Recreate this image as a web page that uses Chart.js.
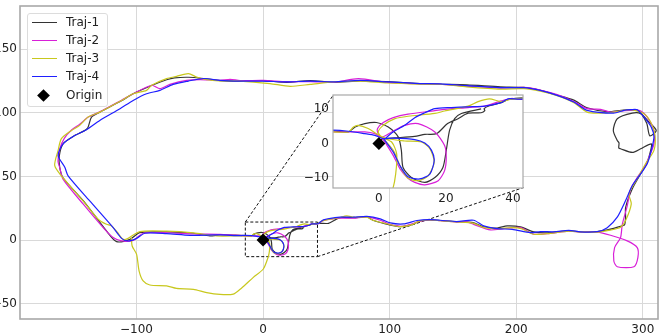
<!DOCTYPE html>
<html>
<head>
<meta charset="utf-8">
<script src="https://cdn.jsdelivr.net/npm/chart.js@4"></script>
<style>
  html, body { margin: 0; padding: 0; background: #fff; overflow: hidden; width: 664px; height: 334px; }
  canvas { position: absolute; }
  #main-chart { left: -20px; top: 0; }
  #inset-chart { left: 300px; top: 90px; }
  #legend { position: absolute; left: 27px; top: 13px; width: 79px; height: 92px; background: rgba(255,255,255,.8);
            border: 1px solid #dcdcdc; border-radius: 3px; font: 12px "DejaVu Sans"; color: #222; }
  #legend span { position: absolute; left: 38px; white-space: nowrap; }
  #legend i { position: absolute; left: 4px; width: 25px; height: 1px; }
  #legend b { position: absolute; left: 11px; width: 9px; height: 9px; background: #000; transform: rotate(45deg); }
</style>
</head>
<body>
<canvas id="main-chart" width="684" height="334"></canvas>
<div id="legend"></div>
<canvas id="inset-chart" width="229" height="115"></canvas>
<script>
const seriesNames = ['Traj-1', 'Traj-2', 'Traj-3', 'Traj-4'];
const seriesColors = ['rgba(0,0,0,.8)', '#d81fd8', '#c8c81e', '#1f1fff'];
const originName = 'Origin';
const origin = [[0, 0]];

const xTicks = [-100, 0, 100, 200, 300];
const yTicks = [-50, 0, 50, 100, 150];
const insetXTicks = [0, 20, 40];
const insetYTicks = [-10, 0, 10];

// zoom box and the inset corners it is tied to
const zoomBox = [[-14, 14.2], [43, 14.2], [43, -13], [-14, -13], [-14, 14.2]];
const connectorA = [[-14, 14.2], [55.4, 113.8]];
const connectorB = [[43, -13], [205.7, 41.3]];

const traj1 = [[-0.2,0.9],[1.8,1.4],[4.8,1.6],[10.7,2],[13.7,2.6],[17.2,2.8],[20.5,5.7],[23.6,7.1],[26.6,8.7],[30.5,8.8],[31.6,9.4],[31.4,10],[33,10.8],
  [36.5,11.7],[39,12.7],[45.1,13.2],[51.7,13.2],[58.3,16.7],[62,17.8],[71.5,17.6],[82,18.2],[87.3,15.4],[100,12],[108.4,10.6],[117.6,12.2],[124,15],[132,15.8],[140,15.4],
  [153,14.5],[166,13.8],[174,10.5],[184.9,9.5],[192.8,11.2],[203.3,10.4],[213.9,6.5],[224.4,5.8],[241.5,7.2],[250.8,6.5],[264,6.7],[272,8],[283.8,11.2],[285.6,12],
  [286.4,18],[286.4,25.6],[291.7,40.3],[298.3,52.1],[303,60],[306.2,70.5],[306.7,75.7],[298.3,71.8],[291.7,68.9],[282.4,71.8],[281,72.4],[281.2,76.5],[279.8,78.3],[276.7,86.2],[279.8,95.4],
  [291.7,99.8],[298.3,99.4],[304.9,92.8],[310.6,86.2],[305.5,82],[303,92],[296,102],[285,102.2],[272,101],[256,104],[245.5,110],[232.3,114],[219,117.7],[206,120],
  [187.5,120.5],[161,122],[140,122.5],[124,123],[97.9,124.5],[76.7,125.2],[55.7,124],[37.2,125.4],[18.7,124],[0.2,125.3],[-18.2,124.8],[-34,125.4],[-47,127],[-59,128],
  [-70,127.5],[-76.2,126],[-88,121.5],[-102.6,115],[-111.8,109.5],[-129,100.5],[-135.5,96.7],[-139,87.5],[-150,81.5],[-158,75.7],[-161,66],[-160.6,57],[-158,49],
  [-140.8,29.5],[-123.7,7.2],[-115.7,-1.2],[-105.2,0.6],[-97.3,5.9],[-76.2,6.4],[-55,5.4],[-41.9,3.3],[-34,4.2],[-18.2,3.8],[-13.9,3.6],[-9.1,3.3],[-7.1,4.7],[-4.2,5.7],
  [-0.7,6],[2.8,4.7],[5.8,1.8],[6.7,-2],[7.2,-6.9],[9.7,-9.8],[13.7,-11.2],[16.7,-9.8],[19.1,-6.9],[20.1,-2],[21.1,3.8],[22.6,7.1],[24.6,8.6],[30.5,9.9]];

const traj2 = [[1.8,0.4],[-0.2,2.8],[-0.4,4.3],[1.3,6],[4.3,7.4],[8.7,8.4],[16.7,9.4],[19.6,9.8],[26.6,10.3],[31.6,10.7],[36.5,12.2],[39.5,12.9],[43,12.7],
  [48,15.5],[60,17.3],[71.5,17.2],[82,18.2],[92.6,15.6],[100,12.5],[105.8,11.4],[111,10.9],[124.2,14.8],[132,15.8],[140,15.2],[153,14.2],[160,14.5],[166.4,12.4],[179.6,8],
  [190.1,9],[203.3,9.8],[213.9,4.6],[224.4,5.1],[241.5,7],[250.8,6.5],[264,6.3],[274.5,3.8],[287.7,-0.6],[295.6,-5.9],[296.1,-13.8],[293,-20.9],[279.8,-20.9],[277.1,-16.4],
  [277.7,-5.9],[282.4,2],[283.8,12.4],[287.7,26.9],[290.4,40],[295.6,49.2],[300.9,57],[304.9,65.2],[308.8,75.7],[308.8,86.2],[303.5,96.7],[297,102],[282.4,101.4],[274.5,100.6],
  [266.6,102.8],[256,103.3],[245.5,109],[232.3,114.3],[219,118],[206,120],[187.5,119.5],[161,121],[140,122.5],[124,122.8],[97.9,124],[75.4,126.9],[55.7,124],[37.2,124.6],
  [18.7,124.5],[0.2,125.5],[-18.2,125.4],[-26,126.4],[-34,125.6],[-49.8,126.1],[-60.4,125.6],[-73.6,122.4],[-81.5,119],[-88,121.7],[-102.6,115],[-111.8,110],[-129,100.8],
  [-138,96.7],[-144.8,91],[-151.3,86.5],[-157,80],[-160.5,72],[-162,62],[-160.6,57],[-158,47.9],[-142,28.2],[-126.3,9.8],[-118.4,2],[-111.8,-0.6],[-102.6,-0.2],[-94.7,5.4],
  [-76.2,5.8],[-55,4.8],[-34,4.5],[-18.2,3.7],[-13.9,3.3],[-9.1,3.3],[-4.2,3.3],[-1.2,2.8],[0.8,1.8],[3.8,3.3],[7.7,5.2],[11.7,5.7],[16.7,3.3],[19.6,-0.6],[20.1,-4],[19.6,-7.8],
  [17.7,-10.7],[13.7,-11.9],[10.7,-11.2],[8.7,-10],[6.3,-7.3],[4.3,-3.5],[1.8,0.4]];

const traj3 = [[-104,2],[-103.4,-4.6],[-99.9,-11.2],[-97.9,-24.3],[-94.7,-32.1],[-89.4,-35.3],[-76.2,-36],[-68.3,-38],[-55,-38.7],[-44.5,-41.3],[-34,-42.7],[-23.5,-42.4],
  [-16.9,-37.6],[-7.7,-29.3],[0.2,-22.7],[4,-13.5],[5,-8.8],[5.3,-3],[3.8,0.4],[0.8,1.8],[-0.2,3.3],[1.3,5.2],[4.8,7.1],[8.7,7.8],[16.7,8.6],[19.6,9.3],[26.6,10.7],[29.6,12],
  [33,12.8],[36.5,12],[39.5,12.7],[43,13],[48,15.5],[60,17.6],[66,19],[72,18],[82,18],[87.3,15.4],[100,12.3],[108.4,10.6],[117.6,12.2],[124,15],[132,15.8],[140,15.2],[153,14.3],
  [166,13.4],[174,10],[184.9,9],[196.8,9.8],[204,9],[213.9,4.6],[224.4,5.1],[241.5,7],[250.8,6.5],[264,6.3],[274,7.8],[282.4,10.1],[286.4,15.4],[290.9,28.5],[289,36.4],
  [295.6,48.2],[302.2,60],[308.8,70.5],[309.6,82.3],[306.2,92.8],[300.9,99.4],[290.4,102.5],[277,100.6],[264,99.8],[256,100.6],[245.5,108],[232.3,113.5],[219,117],[206,119],
  [187.5,118.7],[161,120.5],[140,122.5],[124,122.6],[97.9,123.5],[76.7,125],[55.7,124.3],[37.2,122.4],[21.4,120.9],[5.5,123],[-18.2,125],[-34,125.2],[-44.5,126.1],[-52.5,128.2],
  [-59,130.9],[-68.3,128.7],[-76.2,126.9],[-88,121.7],[-92,117.7],[-102.6,115],[-111.8,109.8],[-129,100.6],[-138.2,96.7],[-144.8,90.2],[-151.3,86.2],[-159.3,79.7],[-161.9,70.5],
  [-164.6,58.7],[-159.3,50.5],[-142.2,30.8],[-130.3,16.4],[-123.7,12.4],[-119.7,11.2],[-115,6],[-110.5,0.6],[-106.6,1.4],[-97.3,6.7],[-76.2,7],[-55,5.7],[-36.6,3.3],[-18.2,3.4],
  [-13.9,3.3],[-9.1,3.3],[-7.6,4.7],[-6.2,5.2],[-3.2,4.3],[-0.7,2.8],[2.3,1.4],[7.7,0.7],[12.7,0.4],[15.2,-1.5],[16.5,-5.4],[14.7,-9.3],[11.7,-10.7],[8.7,-10],[6.7,-7.3],[4.3,-2],[1.8,0.9]];

const traj4 = [[1.6,1.1],[3.8,3],[7.7,5.2],[10.7,7.4],[13.7,8.8],[16.7,10],[21.6,10.3],[26.6,10.5],[31.6,10.7],[36.5,11.7],[38.5,12.8],[43,12.8],[47.7,15.9],[60.9,18],[71.5,18],
  [82,18.7],[92.6,16.7],[100.5,13.5],[111,12.7],[121.6,15.4],[132,16.1],[140,15.6],[153,14.6],[166.4,15.6],[174.3,11.2],[184.9,9],[196.8,8.5],[211.2,5.9],[219.1,6.7],[229.7,6.5],
  [241.5,7.7],[250.8,6.5],[264,6.7],[271.9,9.8],[279.8,18],[286.4,31.1],[291.7,42.9],[298.3,52.1],[303.5,60],[306.7,70.5],[308.8,81],[306.7,88.8],[300.9,96.7],[295.6,102.5],
  [290.4,102.5],[285,102],[277,99.8],[256,102],[245.5,108.5],[232.3,113.8],[219,117.7],[206,119.8],[187.5,119.8],[161,121.4],[140,122.8],[124,123],[97.9,124.3],[76.7,125.6],
  [55.7,124.3],[37.2,125],[18.7,124.3],[0.2,125],[-18.2,125],[-34,125.6],[-47,127],[-59,125],[-71,122.4],[-81.5,117.7],[-92,115],[-102.6,109.8],[-113,103.3],[-129,94],[-139.5,86.8],
  [-150,81.5],[-158,75.7],[-161.9,66.5],[-156.6,57.3],[-154,50.5],[-136.9,30.8],[-118.4,9.8],[-111.8,1.4],[-106.6,-0.7],[-99.9,1.4],[-93.4,5.4],[-76.2,5.1],[-57.8,3.8],[-34,4.1],
  [-18.2,3.5],[-13.9,3.8],[-9.1,3.5],[-4.2,2.8],[-1.2,2.3],[1.3,1.4],[4.3,1.5],[10.7,1.1],[13.7,0.1],[15.7,-2],[16.5,-4.9],[15.2,-8.8],[12.2,-10.2],[8.7,-9.6],[6.3,-6.4],[4.3,-2.5],[1.6,1.1]];

const trajectories = [traj1, traj2, traj3, traj4];
const font = { family: '"DejaVu Sans"', size: 12 };
const toPoints = (pairs) => pairs.map(([x, y]) => ({ x: x, y: y }));
const tickLabel = (v) => String(v).replace('-', '\u2212');

const trajDatasets = () => trajectories.map((t, i) => ({
  label: seriesNames[i],
  data: toPoints(t),
  showLine: true,
  borderColor: seriesColors[i],
  borderWidth: 1.2,
  pointRadius: 0,
  tension: 0.25,
  order: 4 - i
}));

const originDataset = () => ({
  label: originName,
  data: toPoints(origin),
  pointStyle: 'rectRot',
  pointRadius: 6.5,
  backgroundColor: '#000',
  borderWidth: 0,
  order: 0
});

const dashed = (pairs) => ({
  data: toPoints(pairs),
  showLine: true,
  borderColor: '#111',
  borderWidth: 1,
  borderDash: [3, 2],
  pointRadius: 0,
  order: 5,
  clip: false
});

// white plot background and the gray frame on all four sides
const framePlugin = {
  id: 'frame',
  beforeDraw(chart) {
    const a = chart.chartArea;
    chart.ctx.fillStyle = '#fff';
    chart.ctx.fillRect(a.left, a.top, a.width, a.height);
  },
  afterDatasetsDraw(chart, args, opts) {
    const a = chart.chartArea;
    chart.ctx.save();
    chart.ctx.strokeStyle = '#a8a8a8';
    chart.ctx.lineWidth = opts.width;
    chart.ctx.strokeRect(a.left, a.top, a.width, a.height);
    chart.ctx.restore();
  }
};

const axis = (min, max, ticks, fixedSize, sizeKey, padding, showGrid) => ({
  type: 'linear',
  min: min,
  max: max,
  afterBuildTicks: (scale) => { scale.ticks = ticks.map((v) => ({ value: v })); },
  afterFit: (scale) => {
    scale[sizeKey] = fixedSize;
    scale.paddingTop = scale.paddingBottom = scale.paddingLeft = scale.paddingRight = 0;
  },
  border: { display: false },
  grid: { display: showGrid, color: '#d9d9d9', lineWidth: 1, drawTicks: false },
  ticks: { font: font, color: '#222', padding: padding, maxRotation: 0, autoSkip: false, callback: tickLabel }
});

new Chart(document.getElementById('main-chart'), {
  type: 'scatter',
  data: { datasets: [...trajDatasets(), originDataset(), dashed(zoomBox), dashed(connectorA), dashed(connectorB)] },
  options: {
    responsive: false,
    animation: false,
    events: [],
    layout: { autoPadding: false, padding: { top: 6, right: 6 } },
    plugins: { legend: { display: false }, tooltip: { enabled: false }, frame: { width: 1.6 } },
    scales: {
      x: axis(-192, 312, xTicks, 15, 'height', 4, true),
      y: axis(-62, 184, yTicks, 40, 'width', 3, true)
    }
  },
  plugins: [framePlugin]
});

new Chart(document.getElementById('inset-chart'), {
  type: 'scatter',
  data: { datasets: [...trajDatasets(), originDataset()] },
  options: {
    responsive: false,
    animation: false,
    events: [],
    layout: { autoPadding: false, padding: { top: 5, right: 6 } },
    plugins: { legend: { display: false }, tooltip: { enabled: false }, frame: { width: 1.2 } },
    scales: {
      x: axis(-13.7, 43, insetXTicks, 17, 'height', 4, false),
      y: axis(-12.8, 13.9, insetYTicks, 33, 'width', 4, false)
    }
  },
  plugins: [framePlugin]
});

// legend rows
const legend = document.getElementById('legend');
const rowTops = [1, 19, 37, 55, 74];
seriesNames.forEach((name, i) => {
  const swatch = document.createElement('i');
  swatch.style.top = (rowTops[i] + 7) + 'px';
  swatch.style.background = seriesColors[i];
  legend.appendChild(swatch);
  const label = document.createElement('span');
  label.style.top = rowTops[i] + 'px';
  label.textContent = name;
  legend.appendChild(label);
});
const diamond = document.createElement('b');
diamond.style.top = (rowTops[4] + 3) + 'px';
legend.appendChild(diamond);
const originLabel = document.createElement('span');
originLabel.style.top = rowTops[4] + 'px';
originLabel.textContent = originName;
legend.appendChild(originLabel);
</script>
</body>
</html>
